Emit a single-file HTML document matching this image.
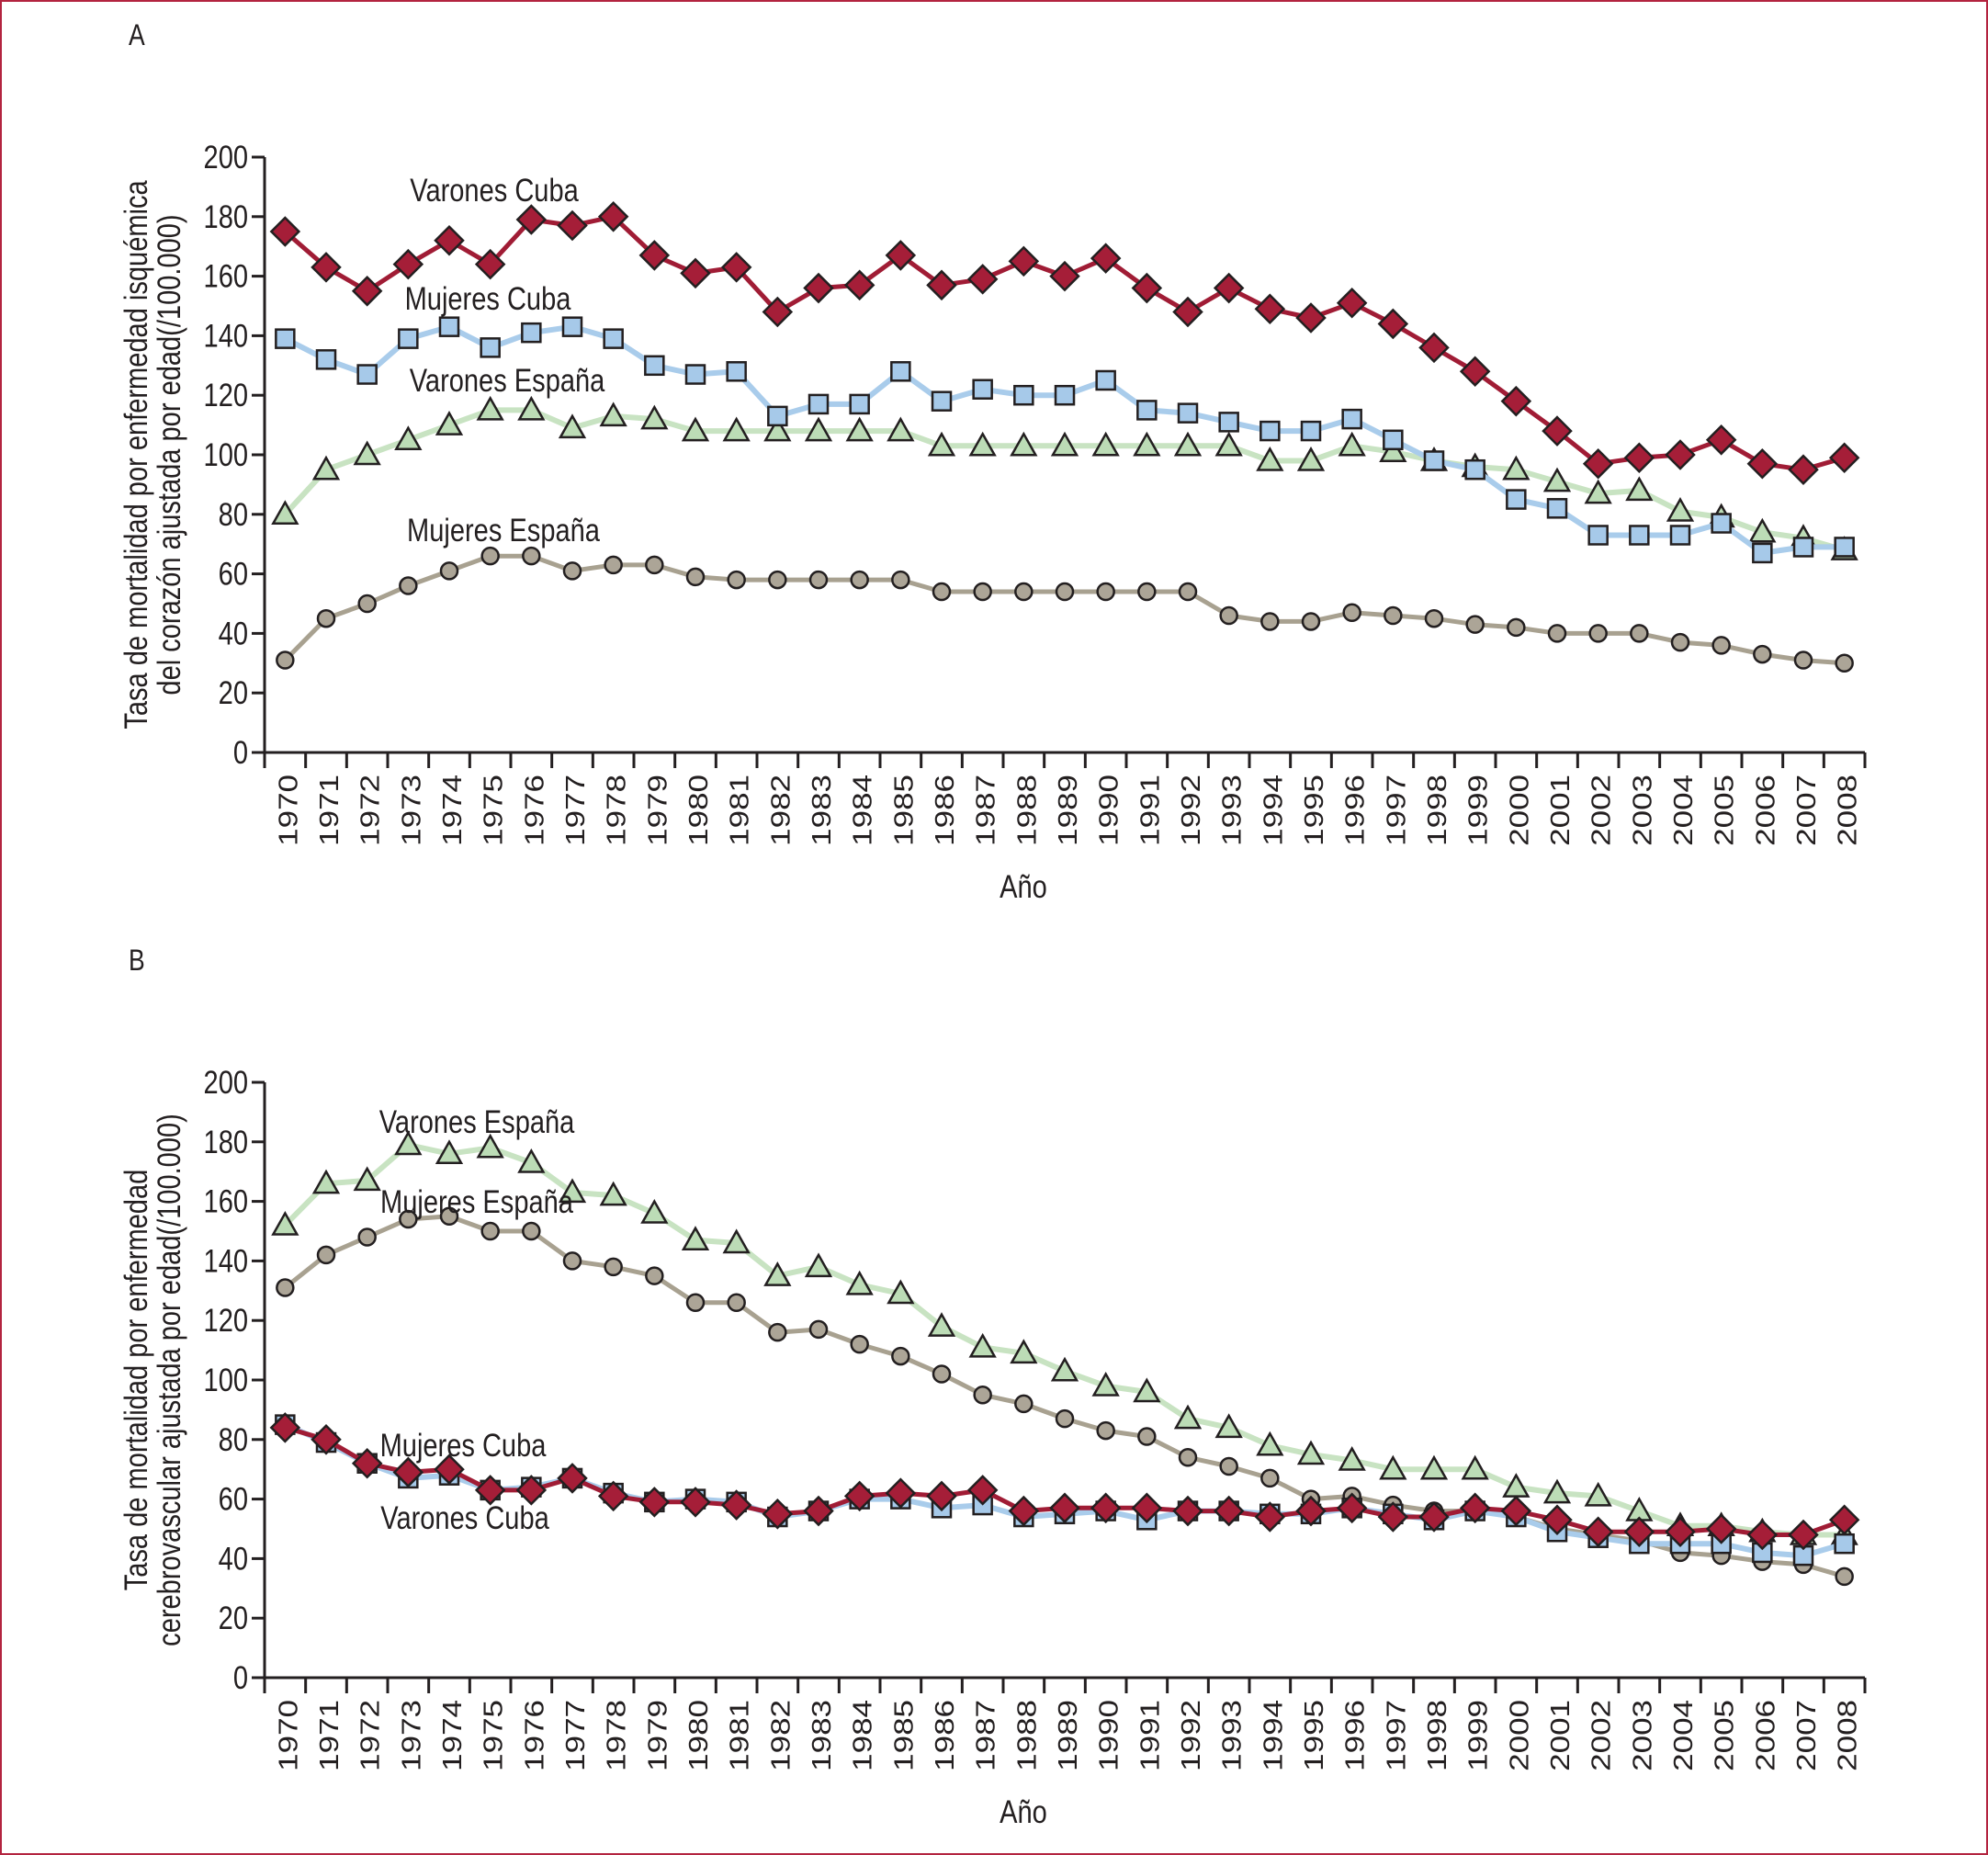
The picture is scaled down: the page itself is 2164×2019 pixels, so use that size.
<!DOCTYPE html>
<html><head><meta charset="utf-8"><style>
html,body{margin:0;padding:0;background:#fff;}
svg{display:block;}
text{font-family:"Liberation Sans Narrow","Liberation Sans",sans-serif;fill:#231f20;}
</style></head><body>
<svg id="svg" width="2164" height="2019" viewBox="0 0 2164 2019" xmlns="http://www.w3.org/2000/svg">
<rect x="1" y="1" width="2162" height="2017" fill="#fff" stroke="#b3243f" stroke-width="2"/>
</svg>
<script>
const years = [];
for (let y = 1970; y <= 2008; y++) years.push(String(y));
const yTicks = [0,20,40,60,80,100,120,140,160,180,200];
// Panel A
const aVarCuba = [175,163,155,164,172,164,179,177,180,167,161,163,148,156,157,167,157,159,165,160,166,156,148,156,149,146,151,144,136,128,118,108,97,99,100,105,97,95,99];
const aMujCuba = [139,132,127,139,143,136,141,143,139,130,127,128,113,117,117,128,118,122,120,120,125,115,114,111,108,108,112,105,98,95,85,82,73,73,73,77,67,69,69];
const aVarEsp = [80,95,100,105,110,115,115,109,113,112,108,108,108,108,108,108,103,103,103,103,103,103,103,103,98,98,103,101,98,96,95,91,87,88,81,79,74,72,68];
const aMujEsp = [31,45,50,56,61,66,66,61,63,63,59,58,58,58,58,58,54,54,54,54,54,54,54,46,44,44,47,46,45,43,42,40,40,40,37,36,33,31,30];
// Panel B
const bVarEsp = [152,166,167,179,176,178,173,163,162,156,147,146,135,138,132,129,118,111,109,103,98,96,87,84,78,75,73,70,70,70,64,62,61,56,51,51,49,48,48];
const bMujEsp = [131,142,148,154,155,150,150,140,138,135,126,126,116,117,112,108,102,95,92,87,83,81,74,71,67,60,61,58,56,56,54,50,48,46,42,41,39,38,34];
const bMujCuba = [85,79,72,67,68,63,64,67,62,59,60,59,54,56,60,60,57,58,54,55,56,53,56,56,55,55,57,55,53,56,54,49,47,45,45,45,42,41,45];
const bVarCuba = [84,80,72,69,70,63,63,67,61,59,59,58,55,56,61,62,61,63,56,57,57,57,56,56,54,56,57,54,54,57,56,53,49,49,49,50,48,48,53];

const NS = "http://www.w3.org/2000/svg";
const svg = document.getElementById('svg');
const SX = 0.83;
function mk(tag, attrs, parent, txt){
  const e = document.createElementNS(NS, tag);
  for (const k in attrs) e.setAttribute(k, attrs[k]);
  if (txt !== undefined) e.textContent = txt;
  (parent||svg).appendChild(e);
  return e;
}
function txt(parent, s, x, y, size, anchor, rot){
  return mk('text', {x:0, y:0, 'font-size':size, 'text-anchor':anchor,
    transform:`translate(${x},${y})${rot?' rotate(-90)':''} scale(${SX},1)`}, parent, s);
}
const X0 = 288, X1 = 2030;
const step = (X1 - X0) / years.length;
function xs(i){ return X0 + step * (i + 0.5); }

const styles = {
  vc:{line:'#a01c35', fill:'#a51e38', w:5, shape:'diamond'},
  mc:{line:'#a9cceb', fill:'#a6c9e9', w:6, shape:'square'},
  ve:{line:'#c8e3c2', fill:'#bcdcb6', w:6, shape:'triangle'},
  me:{line:'#a8a190', fill:'#aca597', w:5, shape:'circle'}
};

function panel(top, bottom, letter, title1, title2, series, labels, pname){
  const g = mk('g', {});
  
  
  const ys = v => bottom - (v/200)*(bottom-top);
  let t = txt(g, letter, 140, top-122, 32, 'start');
  
  
  let ax = mk('path', {d:`M${X0},${top} V${bottom} H${X1}`, fill:'none', stroke:'#231f20', 'stroke-width':3}, g);
  
  
  yTicks.forEach(v => {
    const y = ys(v);
    mk('line', {x1:X0-14, x2:X0, y1:y, y2:y, stroke:'#231f20', 'stroke-width':3}, g);
    const tl = txt(g, String(v), X0-18, y+12, 35, 'end');
    
    
  });
  for (let i = 0; i <= years.length; i++){
    const x = X0 + step*i;
    mk('line', {x1:x, x2:x, y1:bottom, y2:bottom+17, stroke:'#231f20', 'stroke-width':3}, g);
  }
  years.forEach((yr, i) => {
    const tl = mk('text', {x:0, y:0, 'font-size':35, 'text-anchor':'end',
      transform:`translate(${xs(i)+13},${bottom+24}) rotate(-90) scale(1,${SX})`}, g, yr);
    
    
  });
  const xt = txt(g, 'Año', 1114, bottom+158, 35, 'middle');
  
  
  const cy = (top+bottom)/2;
  const yt = mk('text', {x:0, y:0, 'font-size':35, 'text-anchor':'middle', transform:`translate(160,${cy}) rotate(-90) scale(${SX},1)`}, g);
  
  
  mk('tspan', {x:0, dy:0}, yt, title1);
  mk('tspan', {x:0, dy:36}, yt, title2);
  series.forEach(([key, data, name]) => {
    const s = styles[key];
    const sg = mk('g', {}, g);
    
    
    const d = data.map((v,i)=> (i?'L':'M')+xs(i).toFixed(1)+','+ys(v).toFixed(1)).join(' ');
    const ln = mk('path', {d, fill:'none', stroke:s.line, 'stroke-width':s.w, 'stroke-linejoin':'round'}, sg);
    
    
    data.forEach((v,i) => {
      const x = xs(i), y = ys(v);
      let m;
      const at = {fill:s.fill, stroke:'#231f20', 'stroke-width':2.5};
      if (s.shape==='diamond') m = mk('path', Object.assign({d:`M${x},${y-15} L${x+15},${y} L${x},${y+15} L${x-15},${y} Z`}, at), sg);
      else if (s.shape==='square') m = mk('rect', Object.assign({x:x-10, y:y-10, width:20, height:20}, at), sg);
      else if (s.shape==='triangle') m = mk('path', Object.assign({d:`M${x},${y-13} L${x+13},${y+10} L${x-13},${y+10} Z`}, at), sg);
      else m = mk('circle', Object.assign({cx:x, cy:y, r:9}, at), sg);
      
      
    });
  });
  labels.forEach(([s, x, y]) => {
    const l = txt(g, s, x, y, 35, 'middle');
    
    
  });
}

panel(171, 819, 'A', 'Tasa de mortalidad por enfermedad isquémica', 'del corazón ajustada por edad(/100.000)',
  [['me', aMujEsp, 'mujeres-espana'], ['ve', aVarEsp, 'varones-espana'], ['mc', aMujCuba, 'mujeres-cuba'], ['vc', aVarCuba, 'varones-cuba']],
  [['Varones Cuba', 538, 219], ['Mujeres Cuba', 531, 337], ['Varones España', 552, 426], ['Mujeres España', 548, 589]], 'panel-a');

panel(1178, 1826, 'B', 'Tasa de mortalidad por enfermedad', 'cerebrovascular ajustada por edad(/100.000)',
  [['me', bMujEsp, 'mujeres-espana'], ['ve', bVarEsp, 'varones-espana'], ['mc', bMujCuba, 'mujeres-cuba'], ['vc', bVarCuba, 'varones-cuba']],
  [['Varones España', 519, 1233], ['Mujeres España', 519, 1320], ['Mujeres Cuba', 504, 1585], ['Varones Cuba', 506, 1664]], 'panel-b');
</script>
</body></html>
